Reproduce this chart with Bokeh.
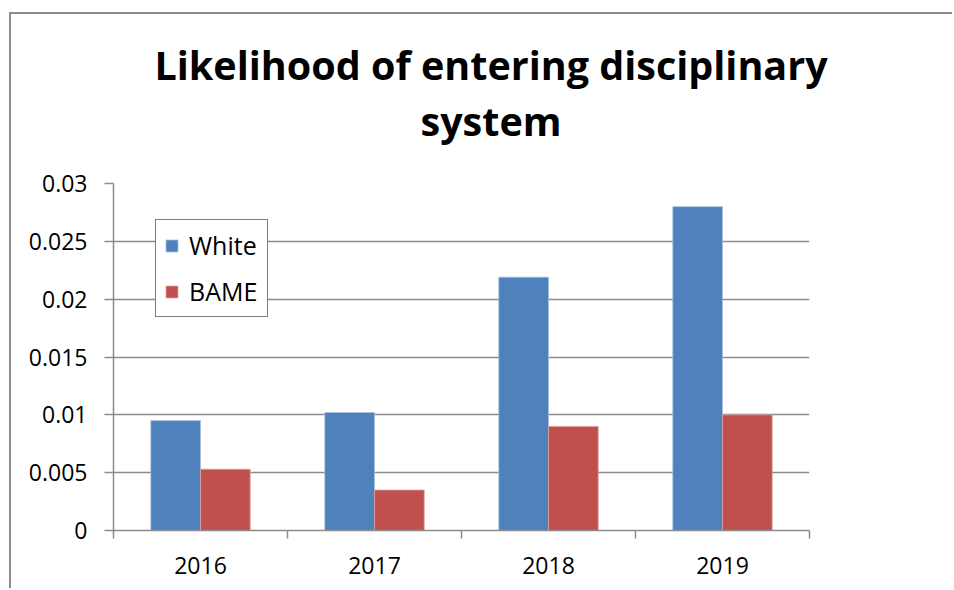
from bokeh.plotting import figure
from bokeh.models import (ColumnDataSource, FixedTicker, Range1d, Legend, LegendItem, Title)
from bokeh.transform import dodge
from bokeh.embed import file_html
from bokeh.resources import INLINE

years = ["2016", "2017", "2018", "2019"]
white = [0.0095, 0.0102, 0.0219, 0.0280]
bame = [0.0053, 0.0035, 0.0090, 0.0100]
y_ticks = [0, 0.005, 0.01, 0.015, 0.02, 0.025, 0.03]
y_labels = ["0", "0.005", "0.01", "0.015", "0.02", "0.025", "0.03"]
title_lines = ["Likelihood of entering disciplinary", "system"]

pos = [i + 0.5 for i in range(len(years))]
src = ColumnDataSource(dict(x=pos, year=years, white=white, bame=bame))

FONT = "Open Sans"
GRAY = "#8c8c8c"
BLUE = "#4F81BD"
RED = "#C0504D"

W, H = 943, 576
p = figure(width=W, height=H, output_backend="svg", toolbar_location=None,
           x_range=Range1d(0, len(years)), y_range=Range1d(0, 0.03),
           min_border_left=102, min_border_right=145, min_border_top=169,
           min_border_bottom=60, outline_line_color=None)
p.title = None
p.styles = {"margin-left": "9px", "margin-top": "12px",
            "border-left": "2px solid #8c8c8c", "border-top": "2px solid #8c8c8c"}

bw = 1.0 / 3.5
r1 = p.vbar(x=dodge("x", -bw / 2, range=p.x_range), top="white", width=bw, source=src,
            fill_color=BLUE, line_color="#a9c0dd", line_width=0.8)
r2 = p.vbar(x=dodge("x", bw / 2, range=p.x_range), top="bame", width=bw, source=src,
            fill_color=RED, line_color="#dca3a2", line_width=0.8)

# axes
p.xaxis.ticker = FixedTicker(ticks=pos, minor_ticks=list(range(len(years) + 1)))
p.xaxis.major_label_overrides = {pv: y for pv, y in zip(pos, years)}
p.xaxis.major_tick_line_color = None
p.xaxis.minor_tick_line_color = GRAY
p.xaxis.minor_tick_line_width = 1.5
p.xaxis.minor_tick_out = 8
p.xaxis.minor_tick_in = 0
p.xaxis.axis_line_color = GRAY
p.xaxis.axis_line_width = 1.5
p.xaxis.major_label_standoff = 18
p.xaxis.major_label_text_font = FONT
p.xaxis.major_label_text_font_size = "23px"
p.xaxis.major_label_text_color = "black"

p.yaxis.ticker = FixedTicker(ticks=y_ticks, minor_ticks=[])
p.yaxis.major_label_overrides = {t: l for t, l in zip(y_ticks, y_labels)}
p.yaxis.major_tick_line_color = GRAY
p.yaxis.major_tick_line_width = 1.5
p.yaxis.major_tick_out = 9
p.yaxis.major_tick_in = 0
p.yaxis.axis_line_color = GRAY
p.yaxis.axis_line_width = 1.5
p.yaxis.major_label_standoff = 17
p.yaxis.major_label_text_font = FONT
p.yaxis.major_label_text_font_size = "23px"
p.yaxis.major_label_text_color = "black"

p.xgrid.grid_line_color = None
p.ygrid.ticker = FixedTicker(ticks=y_ticks)
p.ygrid.grid_line_color = GRAY
p.ygrid.grid_line_width = 1.5

legend = Legend(items=[LegendItem(label="White", renderers=[r1]),
                       LegendItem(label="BAME", renderers=[r2])],
                location=(42, 213), margin=0, padding=8, spacing=12,
                glyph_width=15, glyph_height=15, label_height=15, label_width=70,
                label_standoff=10, border_line_color="black", border_line_width=1.5,
                label_text_font=FONT, label_text_font_size="25px",
                label_text_color="black", background_fill_alpha=1.0)
p.add_layout(legend, "center")

# title: spacer nearest the frame, then the two lines stacked upward
title_offsets = [41, 307]
p.add_layout(Title(text=" ", text_font_size="1px", standoff=33), "above")
for txt, off in reversed(list(zip(title_lines, title_offsets))):
    p.add_layout(Title(text=txt, align="left", offset=off, text_font=FONT,
                       text_font_style="bold", text_font_size="39.5px",
                       text_color="black", standoff=0), "above")

open("out.html", "w").write(file_html(p, INLINE))
